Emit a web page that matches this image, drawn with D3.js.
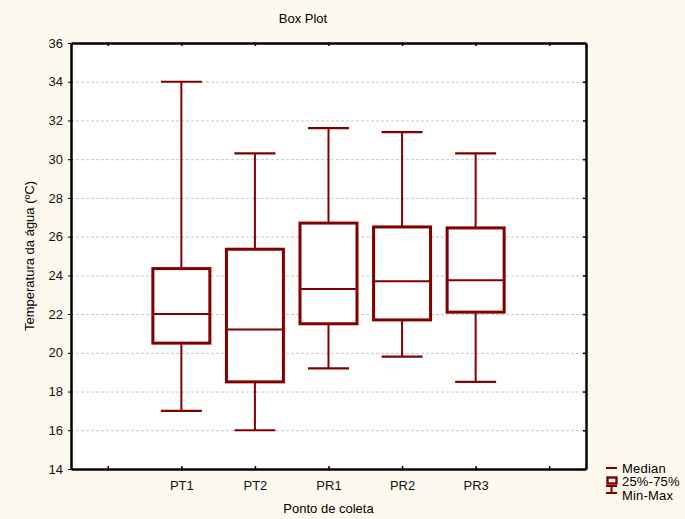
<!DOCTYPE html>
<html>
<head>
<meta charset="utf-8">
<script src="https://cdn.jsdelivr.net/npm/d3@7"></script>
<style>
  body { margin: 0; background: #fdf9ee; }
  svg { display: block; font-family: "Liberation Sans", Arial, sans-serif; }
</style>
</head>
<body>
<div id="chart"></div>
<script>
// categories (empty slots at the ends like the original layout)
var slots = ["", "PT1", "PT2", "PR1", "PR2", "PR3", " "];
var categories = ["PT1", "PT2", "PR1", "PR2", "PR3"];
var minVals = [17.0, 16.0, 19.2, 19.8, 18.5];
var q1Vals = [20.5, 18.5, 21.5, 21.7, 22.1];
var medianVals = [22.0, 21.2, 23.3, 23.7, 23.75];
var q3Vals = [24.35, 25.35, 26.7, 26.5, 26.45];
var maxVals = [34.0, 30.3, 31.6, 31.4, 30.3];
var yTicks = [14, 16, 18, 20, 22, 24, 26, 28, 30, 32, 34, 36];

var width = 685, height = 519;
var margin = { left: 71, top: 43, right: 685 - 586, bottom: 519 - 469 };
var red = "#820000";

var svg = d3.select("#chart").append("svg")
    .attr("width", width)
    .attr("height", height);

svg.append("rect").attr("width", width).attr("height", height).attr("fill", "#fdf9ee");

var x = d3.scalePoint()
    .domain(slots)
    .range([margin.left, width - margin.right])
    .padding(0.5);

var y = d3.scaleLinear()
    .domain([14, 36])
    .range([height - margin.bottom, margin.top]);

// plot area
svg.append("rect")
    .attr("x", margin.left).attr("y", margin.top)
    .attr("width", width - margin.left - margin.right)
    .attr("height", height - margin.top - margin.bottom)
    .attr("fill", "#fff");

// grid
svg.append("g").selectAll("line")
    .data(yTicks.slice(1, -1))
    .enter().append("line")
    .attr("x1", margin.left).attr("x2", width - margin.right)
    .attr("y1", function(d) { return y(d) + 0.5; })
    .attr("y2", function(d) { return y(d) + 0.5; })
    .attr("stroke", "#c8c8c8")
    .attr("stroke-dasharray", "3,2");

// axes
var gx = svg.append("g")
    .attr("transform", "translate(0," + (height - margin.bottom) + ")")
    .call(d3.axisBottom(x).tickSizeInner(-3).tickSizeOuter(0).tickPadding(12));
var gxTop = svg.append("g")
    .attr("transform", "translate(0," + margin.top + ")")
    .call(d3.axisTop(x).tickSizeInner(-3).tickSizeOuter(0).tickFormat(""));
var gy = svg.append("g")
    .attr("transform", "translate(" + margin.left + ",0)")
    .call(d3.axisLeft(y).tickValues(yTicks).tickSizeInner(3).tickSizeOuter(0).tickPadding(5));
var gyRight = svg.append("g")
    .attr("transform", "translate(" + (width - margin.right) + ",0)")
    .call(d3.axisRight(y).tickValues(yTicks).tickSizeInner(-3).tickSizeOuter(0).tickFormat(""));

[gx, gxTop, gy, gyRight].forEach(function(g) {
    g.select(".domain").attr("stroke", "#000").attr("stroke-width", 2.5);
    g.selectAll(".tick line").attr("stroke", "#000").attr("stroke-width", 1.5);
    g.selectAll("text").attr("font-size", 13).attr("fill", "#111")
        .attr("font-family", "'Liberation Sans', Arial, sans-serif");
});
gy.selectAll(".tick line").attr("stroke-width", 1);

// boxes
var boxHalf = 28.5, capHalf = 20.5;
var boxes = svg.append("g").selectAll("g")
    .data(categories)
    .enter().append("g");

boxes.append("line")
    .attr("x1", function(d) { return x(d); })
    .attr("x2", function(d) { return x(d); })
    .attr("y1", function(d, i) { return y(maxVals[i]); })
    .attr("y2", function(d, i) { return y(q3Vals[i]); })
    .attr("stroke", red).attr("stroke-width", 2);
boxes.append("line")
    .attr("x1", function(d) { return x(d); })
    .attr("x2", function(d) { return x(d); })
    .attr("y1", function(d, i) { return y(q1Vals[i]); })
    .attr("y2", function(d, i) { return y(minVals[i]); })
    .attr("stroke", red).attr("stroke-width", 2);
boxes.append("line")
    .attr("x1", function(d) { return x(d) - capHalf; })
    .attr("x2", function(d) { return x(d) + capHalf; })
    .attr("y1", function(d, i) { return y(maxVals[i]); })
    .attr("y2", function(d, i) { return y(maxVals[i]); })
    .attr("stroke", red).attr("stroke-width", 2.2);
boxes.append("line")
    .attr("x1", function(d) { return x(d) - capHalf; })
    .attr("x2", function(d) { return x(d) + capHalf; })
    .attr("y1", function(d, i) { return y(minVals[i]); })
    .attr("y2", function(d, i) { return y(minVals[i]); })
    .attr("stroke", red).attr("stroke-width", 2.2);
boxes.append("rect")
    .attr("x", function(d) { return x(d) - boxHalf; })
    .attr("width", boxHalf * 2)
    .attr("y", function(d, i) { return y(q3Vals[i]); })
    .attr("height", function(d, i) { return y(q1Vals[i]) - y(q3Vals[i]); })
    .attr("fill", "#fff")
    .attr("stroke", red).attr("stroke-width", 3);
boxes.append("line")
    .attr("x1", function(d) { return x(d) - boxHalf; })
    .attr("x2", function(d) { return x(d) + boxHalf; })
    .attr("y1", function(d, i) { return y(medianVals[i]); })
    .attr("y2", function(d, i) { return y(medianVals[i]); })
    .attr("stroke", red).attr("stroke-width", 2);

// titles
svg.append("text")
    .attr("x", 303).attr("y", 23)
    .attr("text-anchor", "middle")
    .attr("font-size", 13)
    .text("Box Plot");
svg.append("text")
    .attr("x", (margin.left + width - margin.right) / 2).attr("y", 513)
    .attr("text-anchor", "middle")
    .attr("font-size", 13)
    .text("Ponto de coleta");
svg.append("text")
    .attr("transform", "translate(34,256) rotate(-90)")
    .attr("text-anchor", "middle")
    .attr("font-size", 13)
    .text("Temperatura da água (ºC)");

// legend
var lg = svg.append("g").attr("stroke", red).attr("fill", "none");
lg.append("line").attr("x1", 606).attr("x2", 617).attr("y1", 468).attr("y2", 468).attr("stroke-width", 2);
lg.append("rect").attr("x", 607.5).attr("y", 477.5).attr("width", 9).attr("height", 6).attr("stroke-width", 2.4);
lg.append("line").attr("x1", 606).attr("x2", 617).attr("y1", 486).attr("y2", 486).attr("stroke-width", 2);
lg.append("line").attr("x1", 606).attr("x2", 617).attr("y1", 493).attr("y2", 493).attr("stroke-width", 2);
lg.append("line").attr("x1", 611.5).attr("x2", 611.5).attr("y1", 486).attr("y2", 493).attr("stroke-width", 2);

var legendLabels = ["Median", "25%-75%", "Min-Max"];
svg.append("g").selectAll("text")
    .data(legendLabels)
    .enter().append("text")
    .attr("x", 622)
    .attr("y", function(d, i) { return 472.5 + i * 13.8; })
    .attr("font-size", 13)
    .attr("letter-spacing", 0.2)
    .text(function(d) { return d; });
</script>
</body>
</html>
